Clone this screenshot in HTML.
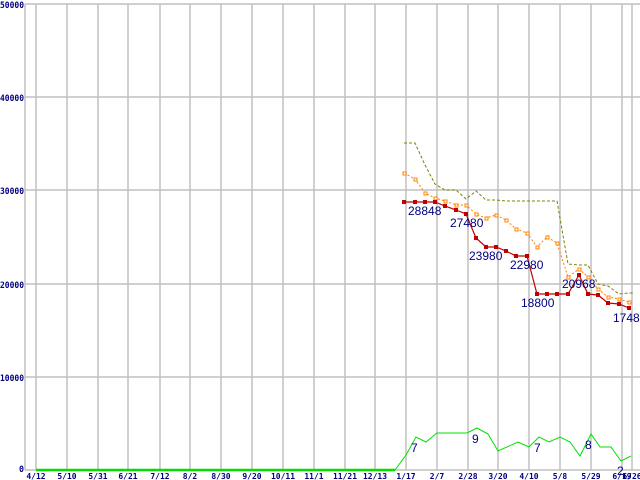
<!DOCTYPE html><html><head><style>body{margin:0;background:#fff}svg{display:block}.m{font-family:"DejaVu Sans Mono","Liberation Mono",monospace}.s{font-family:"Liberation Sans",sans-serif}</style></head><body>
<svg width="640" height="480" xmlns="http://www.w3.org/2000/svg">
<g stroke="#c0c0c0" stroke-width="1.5" fill="none">
<line x1="25" y1="4" x2="25" y2="470"/>
<line x1="25" y1="4" x2="640" y2="4"/><line x1="25" y1="97" x2="640" y2="97"/><line x1="25" y1="190" x2="640" y2="190"/><line x1="25" y1="284" x2="640" y2="284"/><line x1="25" y1="377" x2="640" y2="377"/><line x1="25" y1="470" x2="640" y2="470"/>
<line x1="36" y1="4" x2="36" y2="470"/><line x1="67" y1="4" x2="67" y2="470"/><line x1="98" y1="4" x2="98" y2="470"/><line x1="128" y1="4" x2="128" y2="470"/><line x1="160" y1="4" x2="160" y2="470"/><line x1="190" y1="4" x2="190" y2="470"/><line x1="221" y1="4" x2="221" y2="470"/><line x1="252" y1="4" x2="252" y2="470"/><line x1="283" y1="4" x2="283" y2="470"/><line x1="314" y1="4" x2="314" y2="470"/><line x1="345" y1="4" x2="345" y2="470"/><line x1="375" y1="4" x2="375" y2="470"/><line x1="406" y1="4" x2="406" y2="470"/><line x1="437" y1="4" x2="437" y2="470"/><line x1="468" y1="4" x2="468" y2="470"/><line x1="498" y1="4" x2="498" y2="470"/><line x1="529" y1="4" x2="529" y2="470"/><line x1="560" y1="4" x2="560" y2="470"/><line x1="591" y1="4" x2="591" y2="470"/><line x1="622" y1="4" x2="622" y2="470"/><line x1="632" y1="4" x2="632" y2="470"/>
</g>
<g class="m" fill="#000080" font-size="9" font-weight="bold">
<text x="0" y="8" textLength="24" lengthAdjust="spacingAndGlyphs">50000</text><text x="0" y="101" textLength="24" lengthAdjust="spacingAndGlyphs">40000</text><text x="0" y="194" textLength="24" lengthAdjust="spacingAndGlyphs">30000</text><text x="0" y="288" textLength="24" lengthAdjust="spacingAndGlyphs">20000</text><text x="0" y="381" textLength="24" lengthAdjust="spacingAndGlyphs">10000</text><text x="19" y="472" textLength="5" lengthAdjust="spacingAndGlyphs">0</text>
</g>
<g class="m" fill="#000080" font-size="8" font-weight="bold" text-anchor="middle">
<text x="36" y="479">4/12</text><text x="67" y="479">5/10</text><text x="98" y="479">5/31</text><text x="128" y="479">6/21</text><text x="160" y="479">7/12</text><text x="190" y="479">8/2</text><text x="221" y="479">8/30</text><text x="252" y="479">9/20</text><text x="283" y="479">10/11</text><text x="314" y="479">11/1</text><text x="345" y="479">11/21</text><text x="375" y="479">12/13</text><text x="406" y="479">1/17</text><text x="437" y="479">2/7</text><text x="468" y="479">2/28</text><text x="498" y="479">3/20</text><text x="529" y="479">4/10</text><text x="560" y="479">5/8</text><text x="591" y="479">5/29</text><text x="622" y="479">6/19</text><text x="632" y="479">6/26</text>
</g>
<polyline fill="none" stroke="#00e000" stroke-width="1" points="36,470 395,470 406,455 416,437 426,442 437,433 467,433 477,428 488,434 498,451 518,442 529,447 539,437 549,442 560,437 570,442 580,456 591,434 600,447 611,447 621,461 631,456"/>
<line x1="36" y1="470" x2="395" y2="470" stroke="#00e000" stroke-width="2.5"/>
<polyline fill="none" stroke="#808000" stroke-width="1" stroke-dasharray="3,2" points="404,143 415,143 425,165 435,184 445,190 456,190 466,199 476,191 486,200 496,200 506,201 557,201 568,264 579,265 588,265 598,284 608,286 619,294 629,293 634,293"/>
<polyline fill="none" stroke="#ff8000" stroke-width="1" stroke-dasharray="2,2" points="404,173 415,179 425,193 435,198 445,201 456,205 466,205 476,214 486,218 496,215 506,220 516,229 527,233 537,247 547,237 557,243 568,277 579,269 588,277 598,289 608,297 619,299 629,302"/>
<g fill="#fff" stroke="#ff8000" stroke-width="1">
<rect x="403" y="172" width="3" height="3"/><rect x="414" y="178" width="3" height="3"/><rect x="424" y="192" width="3" height="3"/><rect x="434" y="197" width="3" height="3"/><rect x="444" y="200" width="3" height="3"/><rect x="455" y="204" width="3" height="3"/><rect x="465" y="204" width="3" height="3"/><rect x="475" y="213" width="3" height="3"/><rect x="485" y="217" width="3" height="3"/><rect x="495" y="214" width="3" height="3"/><rect x="505" y="219" width="3" height="3"/><rect x="515" y="228" width="3" height="3"/><rect x="526" y="232" width="3" height="3"/><rect x="536" y="246" width="3" height="3"/><rect x="546" y="236" width="3" height="3"/><rect x="556" y="242" width="3" height="3"/><rect x="567" y="276" width="3" height="3"/><rect x="578" y="268" width="3" height="3"/><rect x="587" y="276" width="3" height="3"/><rect x="597" y="288" width="3" height="3"/><rect x="607" y="296" width="3" height="3"/><rect x="618" y="298" width="3" height="3"/><rect x="628" y="301" width="3" height="3"/>
</g>
<polyline fill="none" stroke="#c00000" stroke-width="1.2" points="404,202 415,202 425,202 435,202 445,206 456,210 466,214 476,238 486,247 496,247 506,251 516,256 527,256 537,294 547,294 557,294 568,294 579,275 588,294 598,295 608,303 619,304 629,308"/>
<g fill="#c00000">
<rect x="402" y="200" width="4" height="4"/><rect x="413" y="200" width="4" height="4"/><rect x="423" y="200" width="4" height="4"/><rect x="433" y="200" width="4" height="4"/><rect x="443" y="204" width="4" height="4"/><rect x="454" y="208" width="4" height="4"/><rect x="464" y="212" width="4" height="4"/><rect x="474" y="236" width="4" height="4"/><rect x="484" y="245" width="4" height="4"/><rect x="494" y="245" width="4" height="4"/><rect x="504" y="249" width="4" height="4"/><rect x="514" y="254" width="4" height="4"/><rect x="525" y="254" width="4" height="4"/><rect x="535" y="292" width="4" height="4"/><rect x="545" y="292" width="4" height="4"/><rect x="555" y="292" width="4" height="4"/><rect x="566" y="292" width="4" height="4"/><rect x="577" y="273" width="4" height="4"/><rect x="586" y="292" width="4" height="4"/><rect x="596" y="293" width="4" height="4"/><rect x="606" y="301" width="4" height="4"/><rect x="617" y="302" width="4" height="4"/><rect x="627" y="306" width="4" height="4"/>
</g>
<g class="s" fill="#000080" font-size="12">
<text x="408" y="215">28848</text><text x="450" y="227">27480</text><text x="469" y="260">23980</text><text x="510" y="269">22980</text><text x="521" y="307">18800</text><text x="562" y="288">20968</text><text x="613" y="322">17480</text>
<text x="411" y="452">7</text><text x="472" y="443">9</text><text x="534" y="452">7</text><text x="585" y="449">8</text><text x="617" y="475">2</text>
</g>
</svg></body></html>
